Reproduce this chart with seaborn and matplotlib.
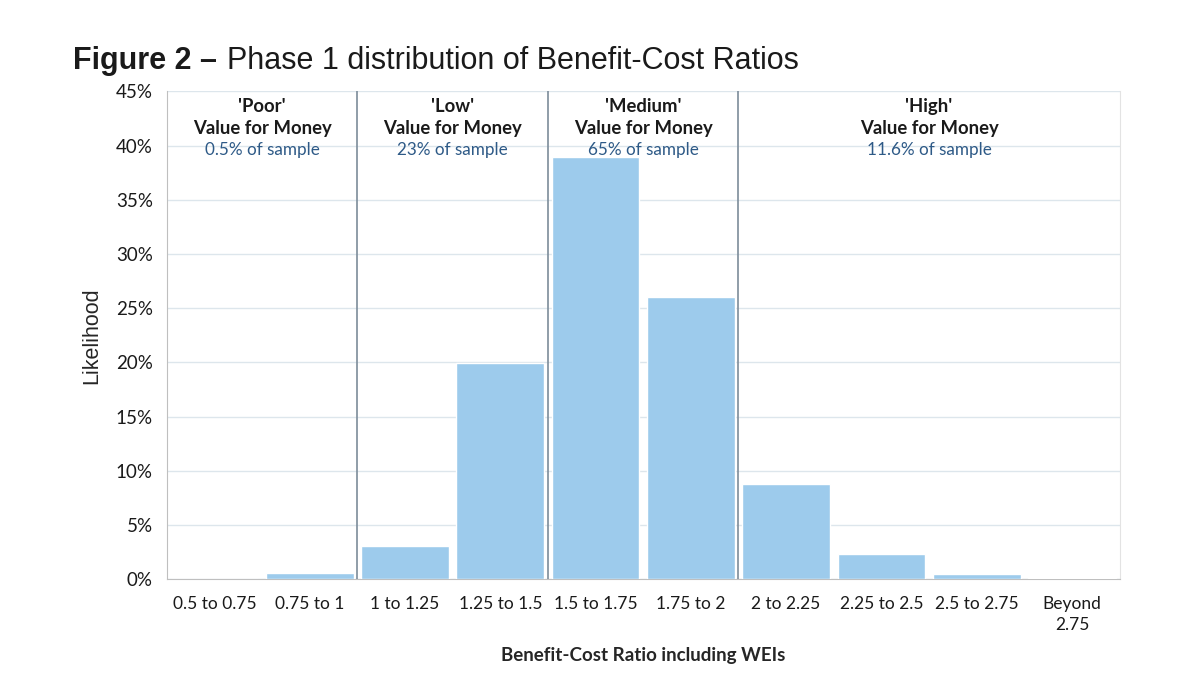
import pandas as pd
import matplotlib.pyplot as plt
import seaborn as sns
from matplotlib.ticker import PercentFormatter

categories = ["0.5 to 0.75", "0.75 to 1", "1 to 1.25", "1.25 to 1.5", "1.5 to 1.75",
              "1.75 to 2", "2 to 2.25", "2.25 to 2.5", "2.5 to 2.75", "Beyond\n2.75"]
likelihood = [0.0, 0.55, 3.1, 19.9, 38.9, 26.0, 8.8, 2.3, 0.45, 0.15]

band_names = ["'Poor'", "'Low'", "'Medium'", "'High'"]
band_shares = ["0.5% of sample", "23% of sample", "65% of sample", "11.6% of sample"]
band_first = ["0.5 to 0.75", "1 to 1.25", "1.5 to 1.75", "2 to 2.25"]

df = pd.DataFrame({"ratio": categories, "likelihood": likelihood})

sns.set_style("white")
plt.rcParams['font.family'] = ['Lato', 'DejaVu Sans']
plt.rcParams['text.color'] = "#1a1a1a"
plt.rcParams['xtick.color'] = "#1a1a1a"
plt.rcParams['ytick.color'] = "#1a1a1a"

fig = plt.figure(figsize=(12, 6.92), dpi=100)
ax = fig.add_axes([0.139, 0.163, 0.794, 0.705])

sns.barplot(x="ratio", y="likelihood", data=df, color="#9dcbec",
            saturation=1, width=0.92, ax=ax, zorder=3)

ax.set_ylim(0, 45)
ax.set_xlim(-0.5, len(categories) - 0.5)
ax.yaxis.set_major_locator(plt.MultipleLocator(5))
ax.yaxis.set_major_formatter(PercentFormatter(decimals=0))
ax.grid(axis="y", color="#dde6ec", linewidth=1, zorder=0)

ax.spines["top"].set_visible(False)
for side in ["left", "bottom"]:
    ax.spines[side].set_color("#bfbfbf")
ax.spines["right"].set_color("#e3e3e3")

ax.tick_params(axis="y", labelsize=13.5, length=6, color="#bfbfbf", pad=4, direction="out")
ax.tick_params(axis="x", labelsize=12.5, length=0, pad=12)
ax.set_xticks(range(len(categories)))
ax.set_xticklabels(categories, linespacing=1.4)
ax.set_xticks([i - 0.5 for i in range(len(categories) + 1)], minor=True)
ax.tick_params(axis="x", which="minor", length=6, color="#bfbfbf", direction="out")

ax.set_xlabel("Benefit-Cost Ratio including WEIs", fontsize=13.5, fontweight="bold", labelpad=10)
ax.set_ylabel("Likelihood", fontsize=15.5, family=["Liberation Sans"], labelpad=10)

# band separators and labels
starts = [categories.index(c) - 0.5 for c in band_first]
ends = starts[1:] + [len(categories) - 0.5]
for i, (s, e) in enumerate(zip(starts, ends)):
    if i > 0:
        ax.axvline(s, color="#7d8c9a", linewidth=1.2, zorder=4)
    mid = (s + e) / 2
    ax.text(mid, 42.6, band_names[i] + "\nValue for Money", ha="center", va="center",
            fontsize=13.3, fontweight="bold", linespacing=1.35, zorder=5)
    ax.text(mid, 39.6, band_shares[i], ha="center", va="center",
            fontsize=12.3, color="#2e5a87", zorder=5)

fig.text(0.061, 0.912, "Figure 2 –", fontsize=22, fontweight="bold",
         family=["Liberation Sans"], va="center")
fig.text(0.189, 0.912, "Phase 1 distribution of Benefit-Cost Ratios", fontsize=22,
         family=["Liberation Sans"], va="center")

fig.savefig("out.png", dpi=100)
